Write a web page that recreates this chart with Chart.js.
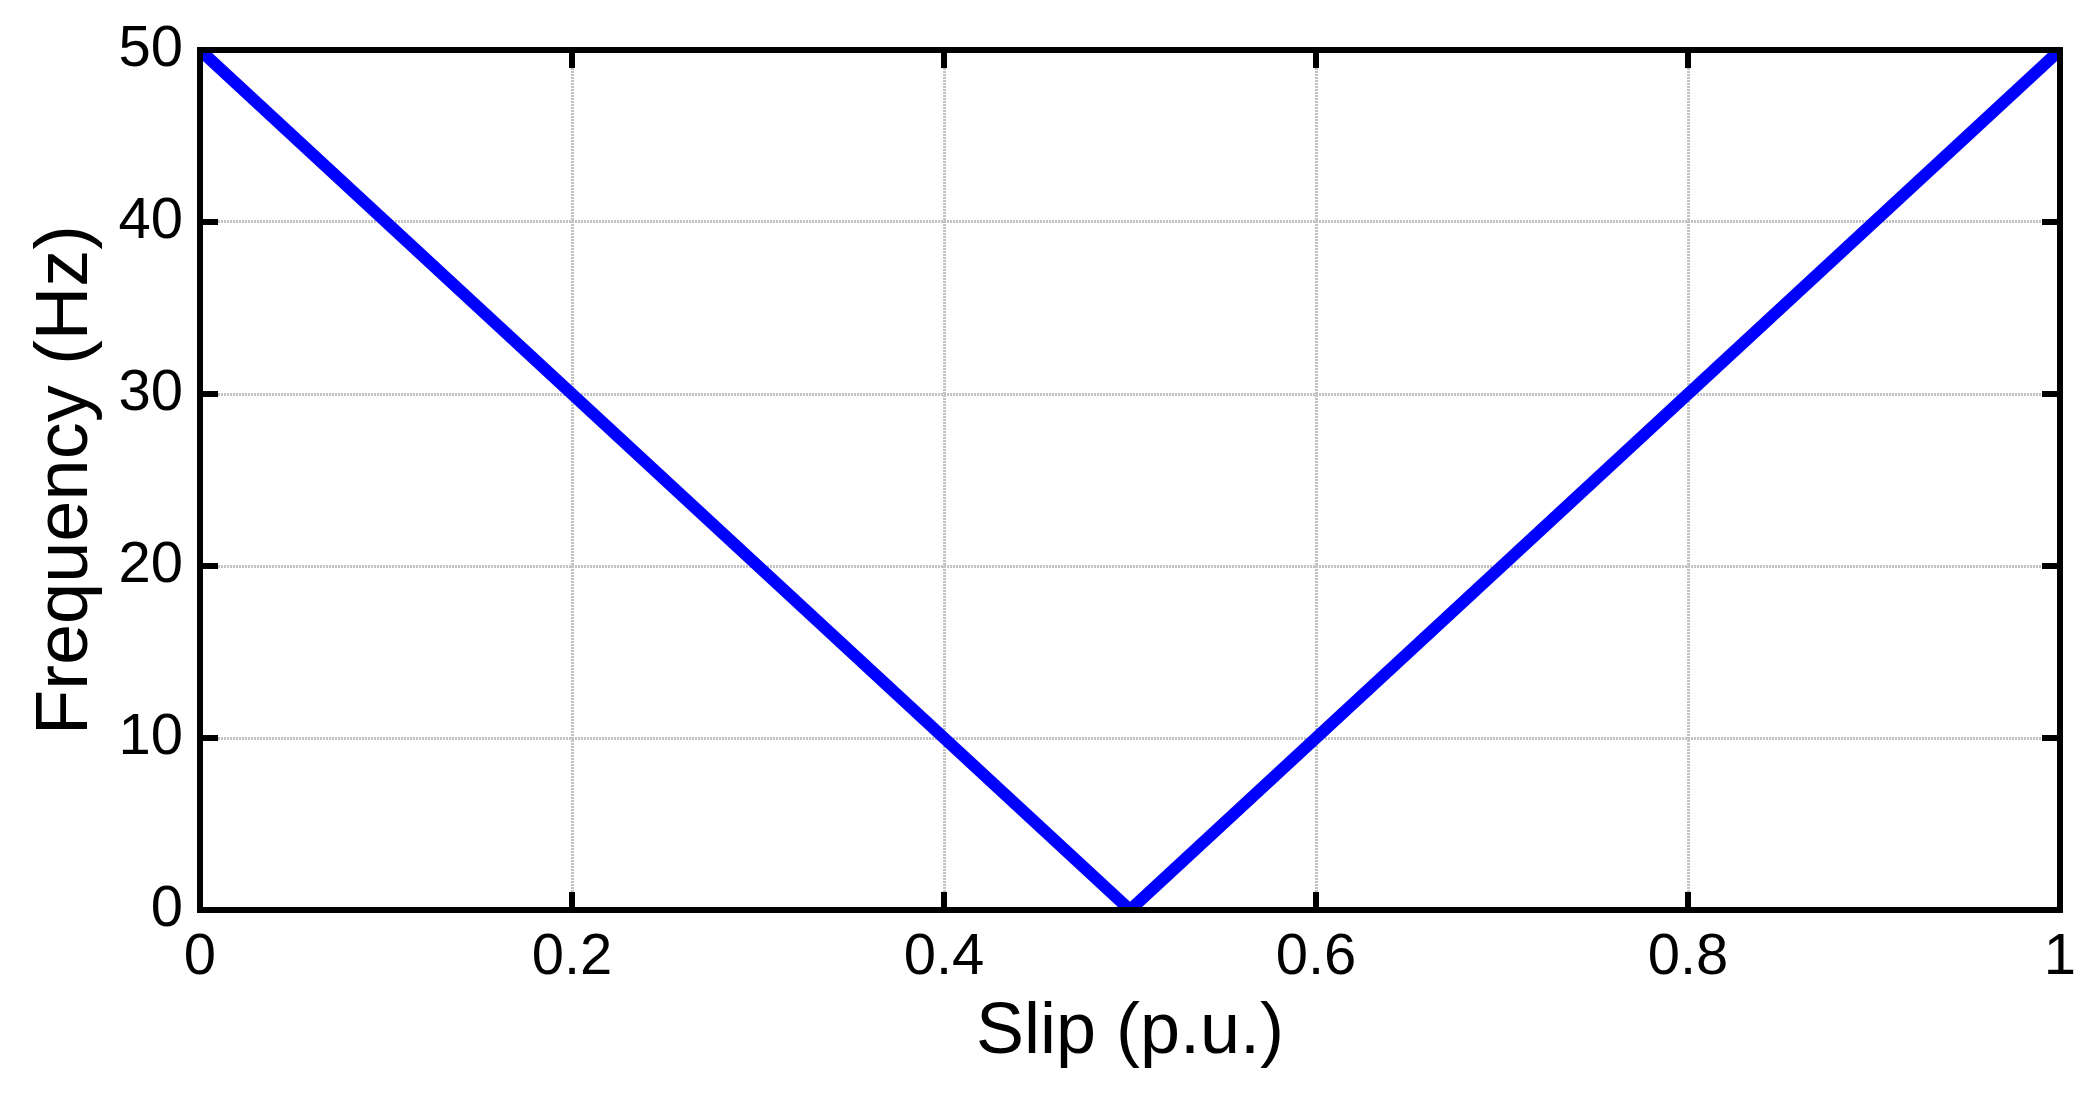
<!DOCTYPE html>
<html>
<head>
<meta charset="utf-8">
<script src="https://cdn.jsdelivr.net/npm/chart.js@4.4.1/dist/chart.umd.min.js"></script>
<style>
  html, body { margin: 0; padding: 0; background: #fff; }
  #wrap { width: 2085px; height: 1095px; }
</style>
</head>
<body>
<div id="wrap"><canvas id="slipChart"></canvas></div>
<script>
// data
const slipValues = [0, 0.5, 1];
const freqValues = [50, 0, 50];
const xTicks = [0, 0.2, 0.4, 0.6, 0.8, 1];
const yTicks = [0, 10, 20, 30, 40, 50];

const points = slipValues.map((s, i) => ({ x: s, y: freqValues[i] }));

// black box around the plot with inward tick marks
const framePlugin = {
    id: 'frame',
    afterDatasetsDraw(chart) {
        const { ctx, chartArea: a, scales: { x, y } } = chart;
        const len = 18;
        ctx.save();
        ctx.strokeStyle = '#000';
        ctx.lineWidth = 6;
        ctx.beginPath();
        xTicks.forEach(v => {
            const px = x.getPixelForValue(v);
            ctx.moveTo(px, a.bottom); ctx.lineTo(px, a.bottom - len);
            ctx.moveTo(px, a.top); ctx.lineTo(px, a.top + len);
        });
        yTicks.forEach(v => {
            const py = y.getPixelForValue(v);
            ctx.moveTo(a.left, py); ctx.lineTo(a.left + len, py);
            ctx.moveTo(a.right, py); ctx.lineTo(a.right - len, py);
        });
        ctx.stroke();
        ctx.strokeRect(a.left, a.top, a.right - a.left, a.bottom - a.top);
        ctx.restore();
    }
};

const font = "'Liberation Sans', Arial, Helvetica, sans-serif";

new Chart(document.getElementById('slipChart'), {
    type: 'scatter',
    data: {
        datasets: [{
            data: points,
            showLine: true,
            borderColor: '#0000ff',
            borderWidth: 12,
            pointRadius: 0,
            clip: 0
        }]
    },
    options: {
        responsive: true,
        maintainAspectRatio: false,
        animation: false,
        layout: { padding: { top: 50, right: 25, left: 0, bottom: 0 } },
        plugins: {
            legend: { display: false },
            tooltip: { enabled: false }
        },
        scales: {
            x: {
                type: 'linear',
                min: 0,
                max: 1,
                afterBuildTicks: s => { s.ticks = xTicks.map(v => ({ value: v })); },
                afterFit: s => { s.height = 185; s.paddingLeft = 0; s.paddingRight = 0; },
                grid: { color: '#c2c2c2', lineWidth: 3, drawTicks: false },
                border: { display: false, dash: [2, 1] },
                ticks: {
                    color: '#000',
                    padding: 13,
                    maxRotation: 0,
                    callback: v => String(v),
                    font: { family: font, size: 58 }
                },
                title: {
                    display: true,
                    text: 'Slip (p.u.)',
                    color: '#000',
                    padding: { top: 0, bottom: 19 },
                    font: { family: font, size: 72 }
                }
            },
            y: {
                min: 0,
                max: 50,
                afterBuildTicks: s => { s.ticks = yTicks.map(v => ({ value: v })); },
                afterFit: s => { s.width = 200; s.paddingTop = 0; s.paddingBottom = 0; },
                grid: { color: '#c2c2c2', lineWidth: 3, drawTicks: false },
                border: { display: false, dash: [2, 1] },
                ticks: {
                    color: '#000',
                    padding: 17,
                    callback: v => String(v),
                    font: { family: font, size: 58 }
                },
                title: {
                    display: true,
                    text: 'Frequency (Hz)',
                    color: '#000',
                    padding: { top: 22, bottom: 0 },
                    font: { family: font, size: 74 }
                }
            }
        }
    },
    plugins: [framePlugin]
});
</script>
</body>
</html>
